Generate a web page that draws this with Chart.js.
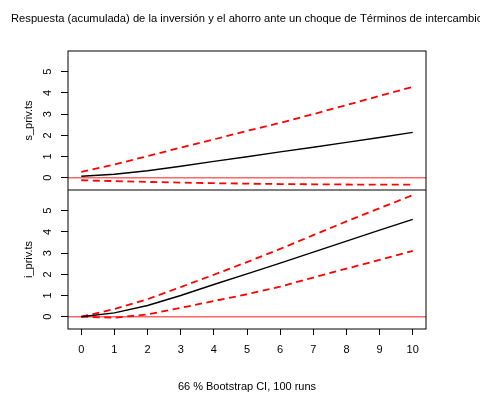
<!doctype html>
<html lang="es">
<head>
<meta charset="utf-8">
<title>Respuesta acumulada</title>
<script src="https://cdn.jsdelivr.net/npm/chart.js@4/dist/chart.umd.min.js"></script>
<style>
  html, body { margin: 0; padding: 0; background: #fff; }
  #irf { display: block; }
</style>
</head>
<body>
<canvas id="irf" width="480" height="394"></canvas>
<script>
// horizons of the impulse response
var horizon = [0, 1, 2, 3, 4, 5, 6, 7, 8, 9, 10];
var xTicks = [0, 1, 2, 3, 4, 5, 6, 7, 8, 9, 10];
var yTicks = [0, 1, 2, 3, 4, 5];
var xLimits = [-0.4, 10.4];
var yLimits = [-0.58, 5.98];

// s_priv.ts: point estimate and bootstrap band
var sPriv      = [0.07, 0.16, 0.33, 0.54, 0.77, 0.99, 1.22, 1.44, 1.67, 1.90, 2.14];
var sPrivUpper = [0.27, 0.62, 1.02, 1.42, 1.81, 2.21, 2.59, 3.00, 3.43, 3.86, 4.29];
var sPrivLower = [-0.12, -0.16, -0.20, -0.23, -0.26, -0.28, -0.30, -0.31, -0.32, -0.33, -0.33];

// i_priv.ts: point estimate and bootstrap band
var iPriv      = [0, 0.18, 0.53, 1.00, 1.52, 2.02, 2.53, 3.05, 3.57, 4.09, 4.59];
var iPrivUpper = [0, 0.36, 0.83, 1.40, 1.98, 2.58, 3.20, 3.85, 4.50, 5.12, 5.74];
var iPrivLower = [0, -0.05, 0.11, 0.42, 0.74, 1.06, 1.42, 1.85, 2.27, 2.68, 3.11];

var mainTitle = 'Respuesta (acumulada) de la inversión y el ahorro ante un choque de Términos de intercambio';
var footnote = '66 % Bootstrap CI, 100 runs';

var FONT = { family: '"Liberation Sans", Arial, sans-serif', size: 11 };

function pts(values) {
  return horizon.map(function (h, i) { return { x: h, y: values[i] }; });
}

function zeroLine(axis) {
  return {
    data: [{ x: xLimits[0], y: 0 }, { x: xLimits[1], y: 0 }],
    yAxisID: axis, borderColor: 'rgba(255,0,0,0.6)', borderWidth: 1.5
  };
}

function estimate(values, axis) {
  return { data: pts(values), yAxisID: axis, borderColor: '#000', borderWidth: 1.4 };
}

function band(values, axis) {
  return {
    data: pts(values), yAxisID: axis, borderColor: '#ff0000', borderWidth: 1.8,
    borderDash: [7, 4.5], borderCapStyle: 'butt'
  };
}

function yPanel(label) {
  return {
    type: 'linear', position: 'left', stack: 'panels',
    min: yLimits[0], max: yLimits[1],
    afterBuildTicks: function (s) { s.ticks = yTicks.map(function (v) { return { value: v }; }); },
    afterFit: function (s) { s.width = 68; },
    grid: { drawOnChartArea: false, drawTicks: true, tickLength: 7, tickColor: '#000' },
    border: { display: false },
    ticks: { color: '#000', font: FONT, minRotation: 90, maxRotation: 90, crossAlign: 'center', padding: 10, autoSkip: false },
    title: { display: true, text: label, color: '#000', font: FONT, padding: { top: 22, bottom: 0 } }
  };
}

// box around both panels plus the divider between them, and the main title
var frame = {
  id: 'frame',
  afterDatasetsDraw: function (chart) {
    var a = chart.chartArea, ctx = chart.ctx;
    var mid = chart.scales.yTop.bottom;
    ctx.save();
    ctx.strokeStyle = '#000';
    ctx.lineWidth = 1;
    ctx.strokeRect(a.left, a.top, a.right - a.left, a.bottom - a.top);
    ctx.beginPath();
    ctx.moveTo(a.left, mid);
    ctx.lineTo(a.right, mid);
    ctx.stroke();
    ctx.restore();
  },
  afterDraw: function (chart) {
    var a = chart.chartArea, ctx = chart.ctx;
    ctx.save();
    ctx.fillStyle = '#000';
    ctx.font = '11.2px ' + FONT.family;
    ctx.textAlign = 'center';
    ctx.textBaseline = 'middle';
    ctx.fillText(mainTitle, (a.left + a.right) / 2, 19);
    ctx.restore();
  }
};

new Chart(document.getElementById('irf'), {
  type: 'line',
  data: {
    datasets: [
      estimate(sPriv, 'yTop'),
      band(sPrivUpper, 'yTop'),
      band(sPrivLower, 'yTop'),
      zeroLine('yTop'),
      estimate(iPriv, 'yBot'),
      band(iPrivUpper, 'yBot'),
      band(iPrivLower, 'yBot'),
      zeroLine('yBot')
    ]
  },
  options: {
    responsive: false,
    animation: false,
    devicePixelRatio: 1,
    layout: { padding: { top: 51, right: 54, bottom: 0, left: 0 } },
    elements: { point: { radius: 0 }, line: { tension: 0, fill: false } },
    plugins: { legend: { display: false }, tooltip: { enabled: false }, title: { display: false } },
    scales: {
      x: {
        type: 'linear', min: xLimits[0], max: xLimits[1],
        afterBuildTicks: function (s) { s.ticks = xTicks.map(function (v) { return { value: v }; }); },
        afterFit: function (s) { s.height = 65; },
        grid: { drawOnChartArea: false, drawTicks: true, tickLength: 6, tickColor: '#000' },
        border: { display: false },
        ticks: { color: '#000', font: FONT, maxRotation: 0, padding: 8, autoSkip: false },
        title: { display: true, text: footnote, color: '#000', font: FONT, padding: { top: 0, bottom: 0 } }
      },
      yBot: yPanel('i_priv.ts'),
      yTop: yPanel('s_priv.ts')
    }
  },
  plugins: [frame]
});
</script>
</body>
</html>
